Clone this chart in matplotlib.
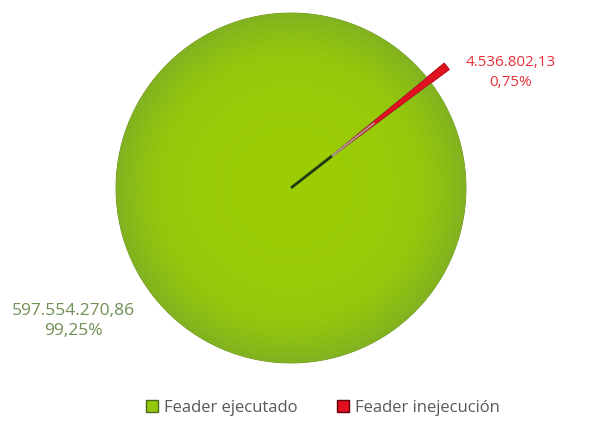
import numpy as np
import matplotlib
matplotlib.use("Agg")
import matplotlib.pyplot as plt
from matplotlib.patches import Patch
from matplotlib.colors import LinearSegmentedColormap

# data
labels = ['Feader inejecución', 'Feader ejecutado']
values = [4536802.13, 597554270.86]
value_txt = ['4.536.802,13', '597.554.270,86']
pct_txt = ['0,75%', '99,25%']

plt.rcParams['font.family'] = ['Open Sans', 'DejaVu Sans']

fig = plt.figure(figsize=(5.89, 4.23), dpi=100)
ax = fig.add_axes([116 / 589, 60 / 423, 350 / 589, 350 / 423])

green = '#94c80c'
red = '#e0101e'

mid = 38.0
share = values[0] / sum(values) * 360
wedges, _ = ax.pie(values, colors=[red, green], explode=[0.13, 0],
                   startangle=mid - share / 2, counterclock=True,
                   wedgeprops=dict(linewidth=0.6))
wedges[0].set_edgecolor('#a00010')
wedges[0].set_clip_on(False)
wedges[1].set_edgecolor('#6a8a2a')

# soft shading on the big slice
yy, xx = np.mgrid[-1:1:400j, -1:1:400j]
rr = np.sqrt(xx ** 2 + yy ** 2)
cmap = LinearSegmentedColormap.from_list('g', ['#9ccd04', '#94c80c', '#82b220'])
img = ax.imshow(np.clip(rr, 0, 1) ** 2.5, cmap=cmap, extent=[-1, 1, -1, 1],
                origin='lower', zorder=wedges[1].get_zorder() + 0.1)
img.set_clip_path(wedges[1])

# dark shadow line near the centre of the small slice
a = np.deg2rad(mid)
ax.plot([0, 0.3 * np.cos(a)], [0, 0.3 * np.sin(a)], color='#1e3a10',
        lw=2, solid_capstyle='butt', zorder=5)
ax.plot([0.3 * np.cos(a), 0.6 * np.cos(a)], [0.3 * np.sin(a), 0.6 * np.sin(a)],
        color='#b0a0a0', lw=1.2, zorder=5)

ax.set_xlim(-1, 1)
ax.set_ylim(-1, 1)
ax.set_aspect('equal')
ax.axis('off')

ax.text(1.255, 0.66, value_txt[0] + '\n' + pct_txt[0], color='#e8303a',
        fontsize=11, ha='center', va='center', linespacing=1.45)
ax.text(-1.245, -0.76, value_txt[1] + '\n' + pct_txt[1], color='#6f8f55',
        fontsize=12.5, ha='center', va='center', linespacing=1.35)

handles = [Patch(facecolor=green, edgecolor='#4a6a20', label=labels[1]),
           Patch(facecolor=red, edgecolor='#600008', label=labels[0])]
fig.legend(handles=handles, loc='center', bbox_to_anchor=(0.548, 0.036),
           ncol=2, frameon=False, fontsize=12, handlelength=0.7,
           handleheight=0.7, handletextpad=0.35, columnspacing=2.4,
           labelcolor='#595959')

fig.savefig('out.png', dpi=100)
